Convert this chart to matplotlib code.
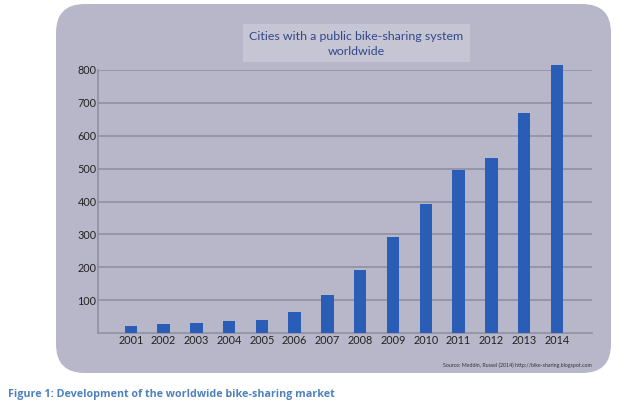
import matplotlib
matplotlib.use("Agg")
import matplotlib.pyplot as plt
from matplotlib.patches import FancyBboxPatch, Rectangle

years = ["2001", "2002", "2003", "2004", "2005", "2006", "2007",
         "2008", "2009", "2010", "2011", "2012", "2013", "2014"]
cities = [22, 28, 31, 36, 40, 64, 116, 193, 293, 392, 497, 532, 670, 815]
yticks = [100, 200, 300, 400, 500, 600, 700, 800]

title = "Cities with a public bike-sharing system\nworldwide"
source = "Source: Meddin, Russel (2014) http://bike-sharing.blogspot.com"
caption = "Figure 1: Development of the worldwide bike-sharing market"

W, H = 640, 404
fig = plt.figure(figsize=(W / 100, H / 100), dpi=100)
fig.patch.set_facecolor("white")

bg = "#b8b7c9"
# rounded panel
panel = FancyBboxPatch((56 / W, 1 - 373 / H), (611 - 56) / W, (373 - 4) / H,
                       boxstyle="round,pad=0,rounding_size=0.045",
                       transform=fig.transFigure, facecolor=bg, edgecolor="none",
                       mutation_aspect=W / H, zorder=-10)
fig.patches.append(panel)

ax = fig.add_axes([98 / W, 1 - 333 / H, (592 - 98) / W, (333 - 70) / H])
ax.set_facecolor("none")
x = list(range(len(years)))
ax.bar(x, cities, width=0.38, color="#2a5eb6", zorder=3, clip_on=False)
ax.set_xlim(-1.0, len(years) - 1 + 1.07)
ax.set_ylim(0, 800)
ax.set_yticks(yticks)
ax.set_yticklabels([str(v) for v in yticks])
ax.set_xticks(x)
ax.set_xticklabels(years)
ax.yaxis.grid(True, color="#8e8d9e", linewidth=1.1, zorder=0)
ax.set_axisbelow(True)
ax.tick_params(axis="both", length=0, labelsize=7.8, colors="#222222")
ax.tick_params(axis="y", pad=1)
ax.tick_params(axis="x", pad=1.5)
for lab in ax.get_xticklabels() + ax.get_yticklabels():
    lab.set_fontfamily("Lato")
for s in ["top", "right"]:
    ax.spines[s].set_visible(False)
for s in ["left", "bottom"]:
    ax.spines[s].set_color("#8e8d9e")
    ax.spines[s].set_linewidth(1.1)

# title box
fig.patches.append(Rectangle((243 / W, 1 - 62 / H), (470 - 243) / W, (62 - 24) / H,
                             transform=fig.transFigure, facecolor="#c5c5d3",
                             edgecolor="none", zorder=-5))
fig.text(356.5 / W, 1 - 44 / H, title, ha="center", va="center",
         fontsize=8.9, color="#33488a", family="Lato", linespacing=1.45)

fig.text(592 / W, 1 - 365 / H, source, ha="right", va="center",
         fontsize=3.8, color="#333333", family="Lato")

fig.text(8 / W, 1 - 394 / H, caption, ha="left", va="center",
         fontsize=7.75, color="#4f81bd", family="Open Sans", fontweight="bold")

fig.savefig("out.png", dpi=100, facecolor="white")
